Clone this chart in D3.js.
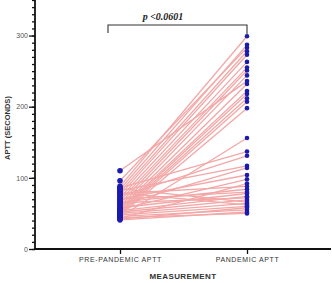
<!DOCTYPE html>
<html>
<head>
<meta charset="utf-8">
<script src="https://cdn.jsdelivr.net/npm/d3@7"></script>
<style>
  body { margin: 0; background: #fff; }
  svg { display: block; }
</style>
</head>
<body>
<div id="chart"></div>
<script>
// one entry per patient, same index in both arrays
var preAPTT = [110, 96, 88, 86, 84, 82, 80, 78, 76, 74, 72, 70, 68, 66, 64, 62, 60, 58, 57, 56,
               55, 54, 53, 52, 51, 50, 49, 48, 47, 46, 45, 44, 43, 42, 41, 65, 70, 79, 85];
var pandemicAPTT = [236, 283, 299, 137, 287, 117, 278, 88, 273, 131, 263, 104, 255, 84, 251, 114, 244, 78, 232, 98,
                    222, 74, 218, 69, 212, 64, 207, 60, 198, 55, 156, 50, 92, 58, 52, 72, 80, 62, 66];
var groups = ["PRE-PANDEMIC APTT", "PANDEMIC APTT"];
var yTicks = [0, 100, 200, 300];

var W = 332, H = 283;
var plotLeft = 35, plotRight = 331, plotTop = 0, plotBottom = 249;

var svg = d3.select("#chart").append("svg")
  .attr("width", W)
  .attr("height", H);

var x = d3.scalePoint()
  .domain(groups)
  .range([120, 247]);
var y = d3.scaleLinear()
  .domain([0, 350])
  .range([plotBottom, plotTop]);

// connecting lines
var pairs = preAPTT.map(function(d, i) { return [d, pandemicAPTT[i]]; });
svg.append("g").selectAll("line")
  .data(pairs)
  .enter().append("line")
  .attr("x1", x(groups[0]))
  .attr("x2", x(groups[1]))
  .attr("y1", function(d) { return y(d[0]); })
  .attr("y2", function(d) { return y(d[1]); })
  .attr("stroke", "#f3a7a7")
  .attr("stroke-width", 1.3);

// points
var dots = svg.append("g").attr("fill", "#1b1bb0");
dots.selectAll("circle.pre")
  .data(preAPTT)
  .enter().append("circle")
  .attr("class", "pre")
  .attr("cx", x(groups[0]))
  .attr("cy", function(d) { return y(d); })
  .attr("r", 2.8);
dots.selectAll("circle.pan")
  .data(pandemicAPTT)
  .enter().append("circle")
  .attr("class", "pan")
  .attr("cx", x(groups[1]))
  .attr("cy", function(d) { return y(d); })
  .attr("r", 2.3);

// y axis: minor ticks every 10
var yMinor = svg.append("g")
  .attr("transform", "translate(" + plotLeft + ",0)")
  .call(d3.axisLeft(y).tickValues(d3.range(0, 351, 10)).tickSize(3).tickFormat(""));
var yAxis = svg.append("g")
  .attr("transform", "translate(" + plotLeft + ",0)")
  .call(d3.axisLeft(y).tickValues(yTicks).tickSize(6).tickPadding(1));
yAxis.selectAll("text")
  .attr("font-family", "Liberation Sans, Arial, sans-serif")
  .attr("font-size", 7)
  .attr("fill", "#555");
[yMinor, yAxis].forEach(function(g) {
  g.select(".domain").remove();
  g.selectAll("line").attr("stroke", "#111").attr("stroke-width", 1.3);
});
svg.append("line")
  .attr("x1", plotLeft).attr("x2", plotLeft)
  .attr("y1", plotTop).attr("y2", plotBottom + 0.7)
  .attr("stroke", "#111").attr("stroke-width", 1.8);

// x axis
var xAxis = svg.append("g")
  .attr("transform", "translate(0," + plotBottom + ")")
  .call(d3.axisBottom(x).tickSize(5).tickPadding(3));
xAxis.select(".domain").remove();
xAxis.selectAll("line").attr("stroke", "#111").attr("stroke-width", 1.3);
xAxis.selectAll("text")
  .attr("font-family", "Liberation Sans, Arial, sans-serif")
  .attr("font-size", 7)
  .attr("letter-spacing", 0.6)
  .attr("fill", "#333");
svg.append("line")
  .attr("x1", plotLeft - 0.9).attr("x2", plotRight)
  .attr("y1", plotBottom).attr("y2", plotBottom)
  .attr("stroke", "#111").attr("stroke-width", 1.8);

// axis titles
svg.append("text")
  .attr("x", (plotLeft + plotRight) / 2)
  .attr("y", 279)
  .attr("text-anchor", "middle")
  .attr("font-family", "Liberation Sans, Arial, sans-serif")
  .attr("font-size", 8)
  .attr("font-weight", "bold")
  .attr("letter-spacing", 0.4)
  .attr("fill", "#333")
  .text("MEASUREMENT");
svg.append("text")
  .attr("transform", "translate(10,128) rotate(-90)")
  .attr("text-anchor", "middle")
  .attr("font-family", "Liberation Sans, Arial, sans-serif")
  .attr("font-size", 7.5)
  .attr("font-weight", "bold")
  .attr("fill", "#333")
  .text("APTT (SECONDS)");

// significance bracket
var by = 25;
svg.append("path")
  .attr("d", "M" + (x(groups[0]) - 12) + "," + (by + 8) + "V" + by + "H" + x(groups[1]) + "V" + (by + 9))
  .attr("fill", "none")
  .attr("stroke", "#333")
  .attr("stroke-width", 1.1);
svg.append("text")
  .attr("x", 163)
  .attr("y", 20)
  .attr("text-anchor", "middle")
  .attr("font-family", "Liberation Serif, Times New Roman, serif")
  .attr("font-style", "italic")
  .attr("font-weight", "bold")
  .attr("font-size", 10)
  .attr("fill", "#222")
  .text("p <0.0601");
</script>
</body>
</html>
